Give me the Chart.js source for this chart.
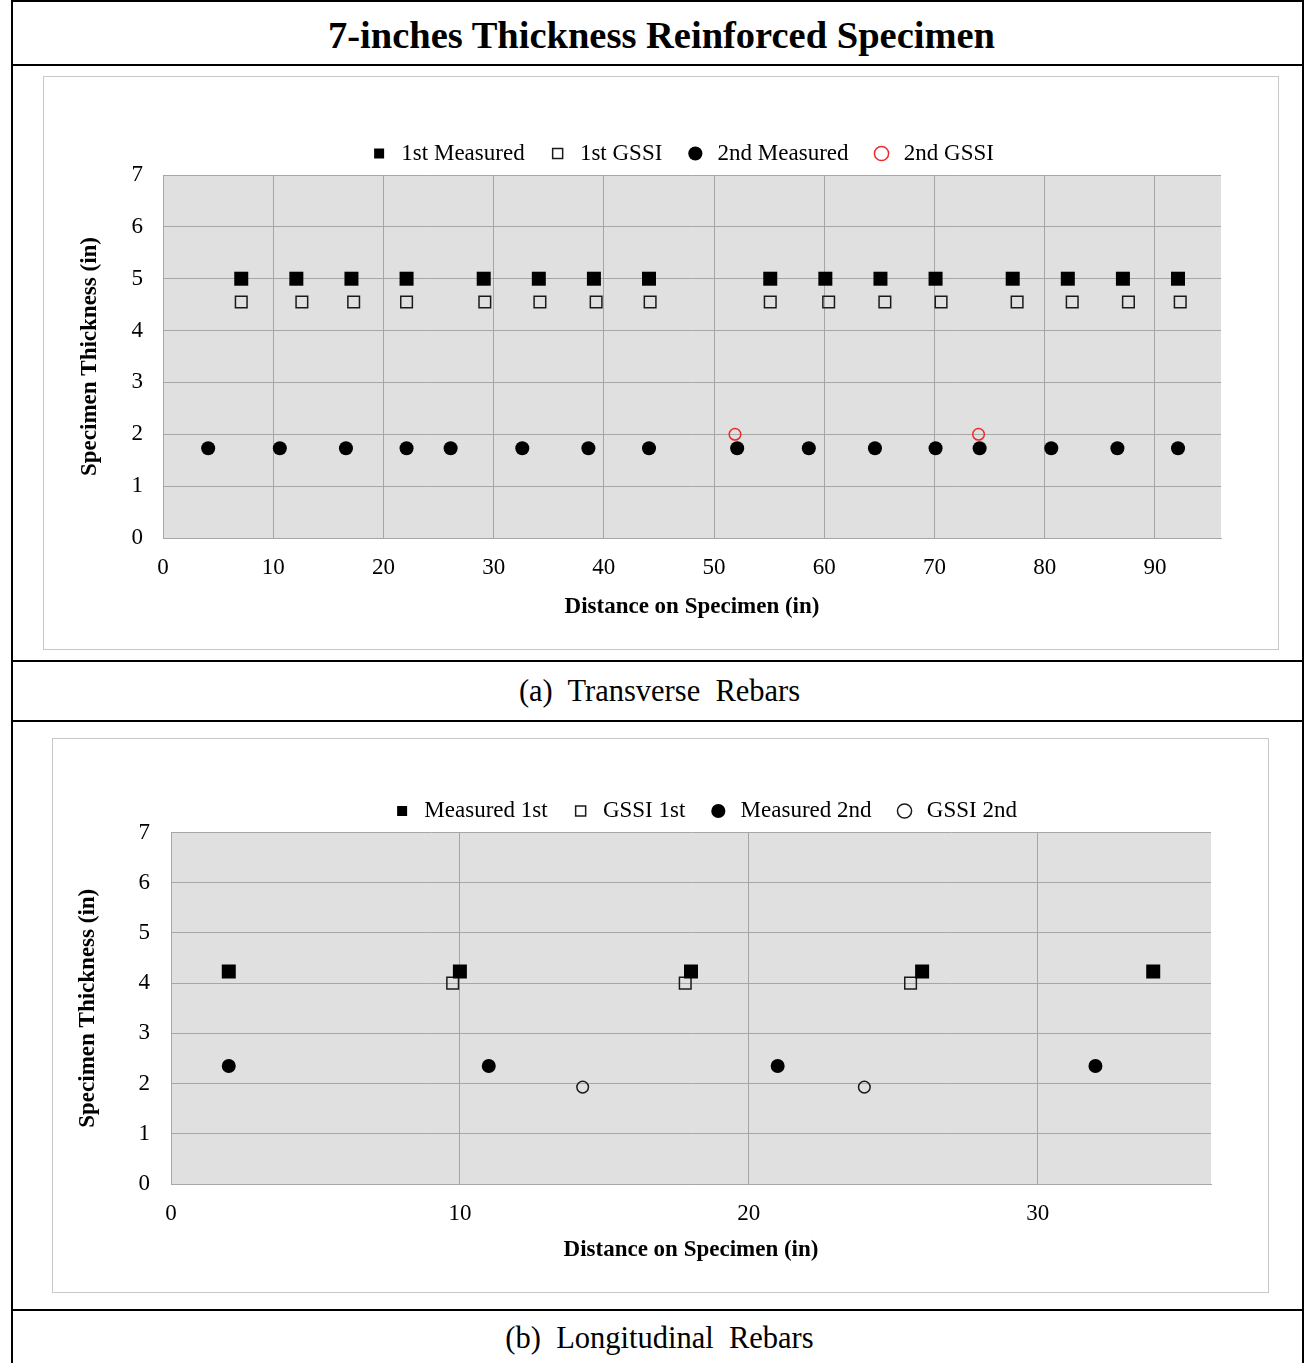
<!DOCTYPE html>
<html>
<head>
<meta charset="utf-8">
<script src="https://cdn.jsdelivr.net/npm/chart.js@4.4.0/dist/chart.umd.min.js"></script>
<style>
  body { margin:0; background:#fff; font-family:'Liberation Serif','Times New Roman',serif; }
  #page { position:relative; width:1308px; height:1363px; overflow:hidden; }
  .rule { position:absolute; left:11px; width:1293px; height:2px; background:#000; }
  .side { position:absolute; top:0; width:2px; height:1363px; background:#000; }
  .cap { position:absolute; left:0; width:1319px; text-align:center; white-space:pre; color:#000; }
  .frame { position:absolute; border:1px solid #c8c8c8; box-sizing:border-box; }
  canvas { position:absolute; }
</style>
</head>
<body>
<div id="page">
  <div class="rule" style="top:0"></div>
  <div class="rule" style="top:64px"></div>
  <div class="rule" style="top:660px"></div>
  <div class="rule" style="top:720px"></div>
  <div class="rule" style="top:1309px"></div>
  <div class="side" style="left:11px"></div>
  <div class="side" style="left:1302px"></div>

  <div class="cap" style="top:10px;height:50px;line-height:50px;font-size:38.5px;font-weight:bold;left:2px">7-inches Thickness Reinforced Specimen</div>

  <div class="frame" style="left:43px;top:76px;width:1236px;height:574px"></div>
  <canvas id="chartA" width="1234" height="572" style="left:44px;top:77px;width:1234px;height:572px"></canvas>

  <div class="cap" style="top:671px;height:40px;line-height:40px;font-size:30.5px">(a)  Transverse  Rebars</div>

  <div class="frame" style="left:52px;top:738px;width:1217px;height:555px"></div>
  <canvas id="chartB" width="1215" height="553" style="left:53px;top:739px;width:1215px;height:553px"></canvas>

  <div class="cap" style="top:1318px;height:40px;line-height:40px;font-size:30.5px">(b)  Longitudinal  Rebars</div>
</div>

<script>
// ===== data: (a) transverse rebars =====
const trXMax = 96;
const tr1stMeasX = [7.1, 12.1, 17.1, 22.1, 29.1, 34.1, 39.1, 44.1, 55.1, 60.1, 65.1, 70.1, 77.1, 82.1, 87.1, 92.1];
const tr1stMeasY = [5, 5, 5, 5, 5, 5, 5, 5, 5, 5, 5, 5, 5, 5, 5, 5];
const tr1stGssiX = [7.1, 12.6, 17.3, 22.1, 29.2, 34.2, 39.3, 44.2, 55.1, 60.4, 65.5, 70.6, 77.5, 82.5, 87.6, 92.3];
const tr1stGssiY = [4.55, 4.55, 4.55, 4.55, 4.55, 4.55, 4.55, 4.55, 4.55, 4.55, 4.55, 4.55, 4.55, 4.55, 4.55, 4.55];
const tr2ndMeasX = [4.1, 10.6, 16.6, 22.1, 26.1, 32.6, 38.6, 44.1, 52.1, 58.6, 64.6, 70.1, 74.1, 80.6, 86.6, 92.1];
const tr2ndMeasY = [1.73, 1.73, 1.73, 1.73, 1.73, 1.73, 1.73, 1.73, 1.73, 1.73, 1.73, 1.73, 1.73, 1.73, 1.73, 1.73];
const tr2ndGssiX = [51.9, 74.0];
const tr2ndGssiY = [2, 2];
const trLabels = ['1st Measured', '1st GSSI', '2nd Measured', '2nd GSSI'];

// ===== data: (b) longitudinal rebars =====
const lgXMax = 36;
const lg1stMeasX = [2, 10, 18, 26, 34];
const lg1stMeasY = [4.23, 4.23, 4.23, 4.23, 4.23];
const lg1stGssiX = [9.75, 17.8, 25.6];
const lg1stGssiY = [4, 4, 4];
const lg2ndMeasX = [2, 11, 21, 32];
const lg2ndMeasY = [2.35, 2.35, 2.35, 2.35];
const lg2ndGssiX = [14.25, 24];
const lg2ndGssiY = [1.93, 1.93];
const lgLabels = ['Measured 1st', 'GSSI 1st', 'Measured 2nd', 'GSSI 2nd'];

const yMax = 7;
const xTitle = 'Distance on Specimen (in)';
const yTitle = 'Specimen Thickness (in)';

Chart.defaults.font.family = "'Liberation Serif','Times New Roman',serif";
Chart.defaults.color = '#000';

const GRID = '#a6a6a6';

function pts(xs, ys) { return xs.map((x, i) => ({ x: x, y: ys[i] })); }

// marker styles
const filledSquare = { pointStyle:'rect', pointRadius:9.9, pointBackgroundColor:'#000', pointBorderColor:'#000', pointBorderWidth:0, backgroundColor:'#000', borderColor:'#000', borderWidth:0 };
const openSquare   = { pointStyle:'rect', pointRadius:8.2, pointBackgroundColor:'rgba(0,0,0,0)', pointBorderColor:'#1a1a1a', pointBorderWidth:1.5, backgroundColor:'rgba(0,0,0,0)', borderColor:'#1a1a1a', borderWidth:1.5 };
const filledCircle = { pointStyle:'circle', pointRadius:7, pointBackgroundColor:'#000', pointBorderColor:'#000', pointBorderWidth:0, backgroundColor:'#000', borderColor:'#000', borderWidth:0 };
function openCircle(col) {
  return { pointStyle:'circle', pointRadius:5.8, pointBackgroundColor:'rgba(0,0,0,0)', pointBorderColor:col, pointBorderWidth:1.5, backgroundColor:'rgba(0,0,0,0)', borderColor:col, borderWidth:1.5 };
}

// gray plot area
const plotBg = {
  id: 'plotBg',
  beforeDraw(chart) {
    const a = chart.chartArea, c = chart.ctx;
    c.save();
    c.fillStyle = '#e0e0e0';
    c.fillRect(a.left, a.top, a.right - a.left, a.bottom - a.top);
    c.restore();
  }
};
// nudge the legend sideways
const legendShift = {
  id: 'legendShift',
  afterLayout(chart, args, opts) {
    const lg = chart.legend;
    if (lg) { lg.left += opts.dx; lg.right += opts.dx; }
  }
};

function makeChart(id, datasets, xMax, lay) {
  return new Chart(document.getElementById(id), {
    type: 'scatter',
    data: { datasets: datasets },
    plugins: [plotBg, legendShift],
    options: {
      responsive: false,
      animation: false,
      events: [],
      layout: { padding: { left: 0, right: lay.right, top: lay.top, bottom: 0 } },
      plugins: {
        tooltip: { enabled: false },
        legendShift: { dx: lay.dx },
        legend: {
          display: true,
          position: 'top',
          labels: {
            usePointStyle: true, boxWidth: 10, boxHeight: 10, padding: 5,
            color: '#000', font: { size: 23 },
            generateLabels(chart) {
              const items = Chart.defaults.plugins.legend.labels.generateLabels(chart);
              items.forEach((it, i) => { it.text = ' ' + it.text + (i < items.length - 1 ? '    ' : ''); });
              return items;
            }
          }
        }
      },
      scales: {
        x: {
          type: 'linear', min: 0, max: xMax,
          ticks: { stepSize: 10, includeBounds: false, padding: 16, color: '#000', font: { size: 23 } },
          grid: { color: GRID, drawTicks: false },
          border: { color: GRID },
          title: { display: true, text: xTitle, color: '#000', font: { size: 23, weight: 'bold' }, padding: { top: 0, bottom: 28 } },
          afterFit(s) { s.height = lay.xh; }
        },
        y: {
          min: 0, max: yMax,
          ticks: { stepSize: 1, padding: lay.ypad, color: '#000', font: { size: 23 } },
          grid: { color: GRID, drawTicks: false },
          border: { color: GRID },
          title: { display: true, text: yTitle, color: '#000', font: { size: 23, weight: 'bold' }, padding: { top: lay.ytitle, bottom: 0 } },
          afterFit(s) { s.width = lay.yw; }
        }
      }
    }
  });
}

makeChart('chartA', [
  Object.assign({ label: trLabels[0], data: pts(tr1stMeasX, tr1stMeasY) }, filledSquare),
  Object.assign({ label: trLabels[1], data: pts(tr1stGssiX, tr1stGssiY) }, openSquare),
  Object.assign({ label: trLabels[2], data: pts(tr2ndMeasX, tr2ndMeasY) }, filledCircle),
  Object.assign({ label: trLabels[3], data: pts(tr2ndGssiX, tr2ndGssiY) }, openCircle('#ee2b2b'))
], trXMax, { right: 57, top: 60, dx: 51.5, xh: 111, yw: 119, ypad: 20, ytitle: 32 });

makeChart('chartB', [
  Object.assign({ label: lgLabels[0], data: pts(lg1stMeasX, lg1stMeasY) }, filledSquare),
  Object.assign({ label: lgLabels[1], data: pts(lg1stGssiX, lg1stGssiY) }, openSquare),
  Object.assign({ label: lgLabels[2], data: pts(lg2ndMeasX, lg2ndMeasY) }, filledCircle),
  Object.assign({ label: lgLabels[3], data: pts(lg2ndGssiX, lg2ndGssiY) }, openCircle('#1a1a1a'))
], lgXMax, { right: 57, top: 55.5, dx: 75, xh: 108, yw: 118, ypad: 21, ytitle: 21 });
</script>
</body>
</html>
